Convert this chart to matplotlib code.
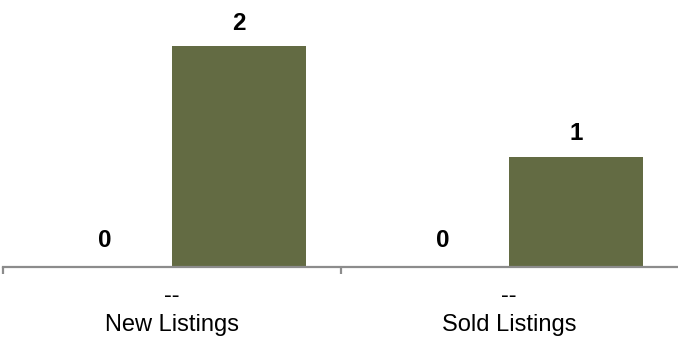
import matplotlib
matplotlib.use("Agg")
import matplotlib.pyplot as plt

categories = ["--\nNew Listings", "--\nSold Listings"]
prior_values = [0, 0]
current_values = [2, 1]

plt.rcParams['font.family'] = ['Liberation Sans', 'DejaVu Sans']

fig = plt.figure(figsize=(6.78, 3.37), dpi=100)
ax = fig.add_axes([3 / 678, 70 / 337, 675 / 678, 267 / 337])

x = list(range(len(categories)))
w = 0.397
b1 = ax.bar([i - w for i in x], prior_values, width=w, align='edge', color='#8a8f6a')
b2 = ax.bar(x, current_values, width=w, align='edge', color='#636b43')

ax.bar_label(b1, labels=[str(v) for v in prior_values], padding=11,
             fontsize=17.5, fontweight='bold')
ax.bar_label(b2, labels=[str(v) for v in current_values], padding=8,
             fontsize=17.5, fontweight='bold')

ax.set_xlim(-0.5, 1.5)
ax.set_ylim(0, 2 * 267 / 221)

for s in ['top', 'right', 'left']:
    ax.spines[s].set_visible(False)
ax.spines['bottom'].set_color('#8c8c8c')
ax.spines['bottom'].set_linewidth(1.6)

ax.set_yticks([])
ax.set_xticks([-0.5, 0.5])
ax.set_xticklabels([])
ax.tick_params(axis='x', which='major', length=5, width=1.6, color='#8c8c8c')
ax.set_xticks(x, minor=True)
ax.set_xticklabels(categories, minor=True, fontsize=17, linespacing=1.4)
ax.tick_params(axis='x', which='minor', length=0, pad=13)

fig.savefig("out.png", dpi=100)
